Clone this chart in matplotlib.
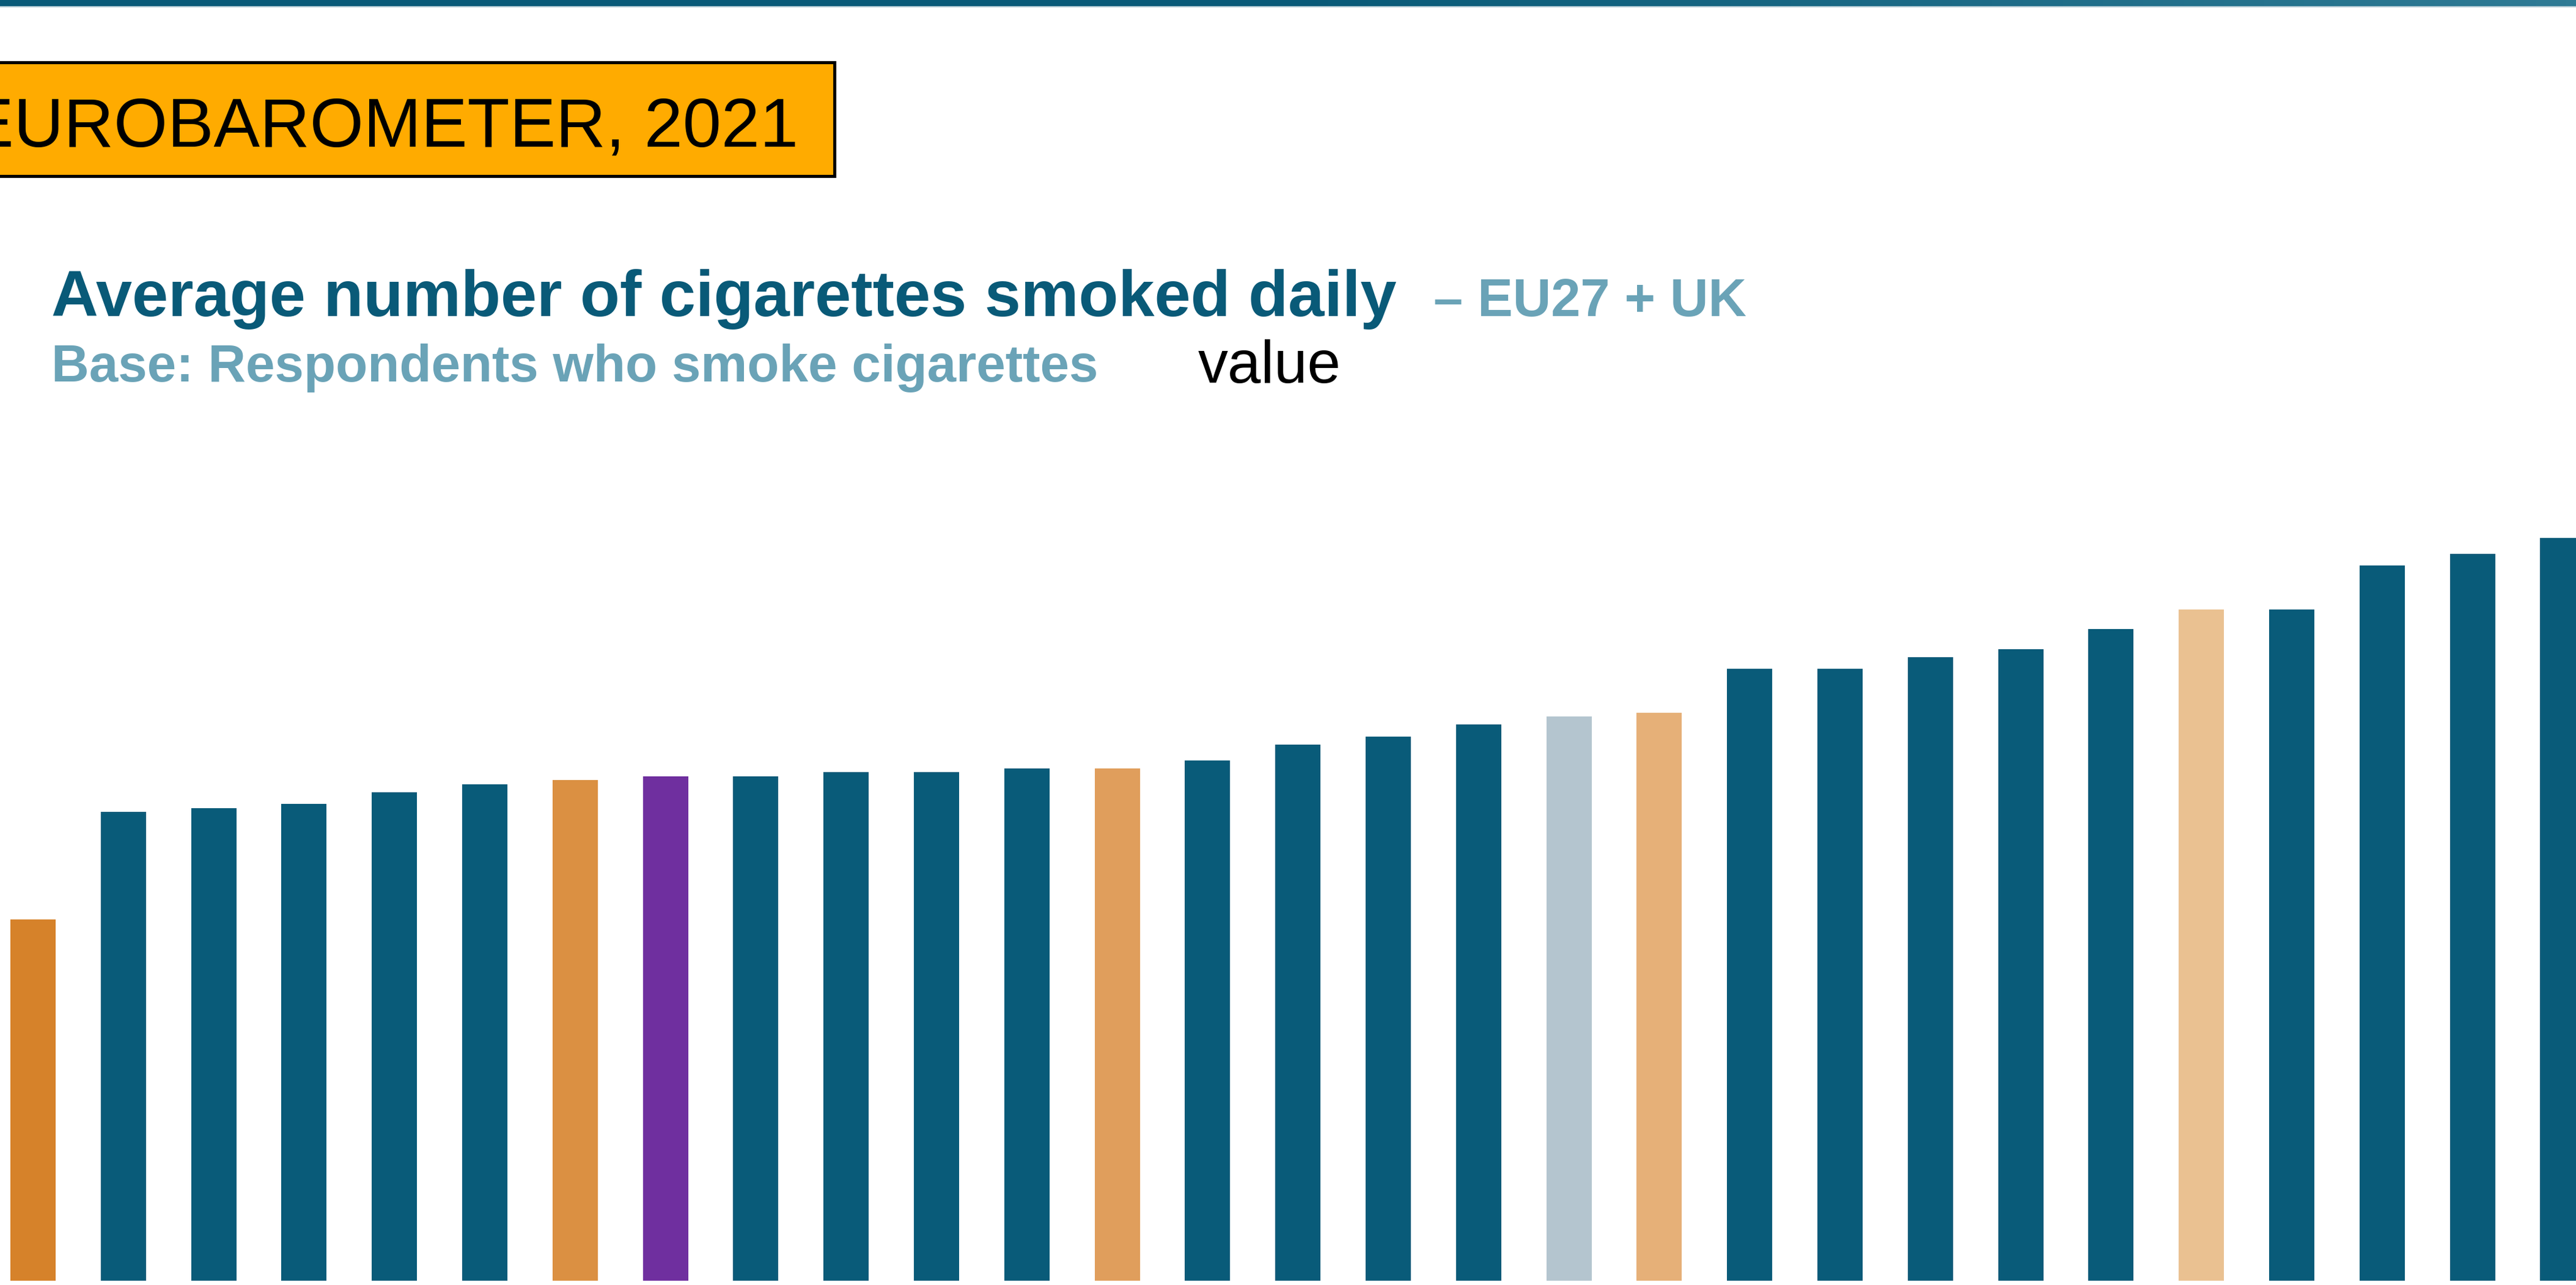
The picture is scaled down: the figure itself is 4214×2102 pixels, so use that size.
import matplotlib.pyplot as plt
import matplotlib.patches as mpatches
from matplotlib.colors import LinearSegmentedColormap
import numpy as np

plt.rcParams['font.family'] = ['Liberation Sans', 'DejaVu Sans']

# average number of cigarettes smoked daily, sorted ascending (labels are cut off in the source)
values = [9.1, 11.8, 11.9, 12.0, 12.3, 12.5, 12.6, 12.7, 12.7, 12.8,
          12.8, 12.9, 12.9, 13.1, 13.5, 13.7, 14.0, 14.2, 14.3, 15.4,
          15.4, 15.7, 15.9, 16.4, 16.9, 16.9, 18.0, 18.3, 18.7]
# highlighted bars (index -> colour), everything else is the dark blue
highlights = {0: "#D6822A", 6: "#DB9042", 7: "#6F2F9F", 12: "#E09E5C",
              17: "#B4C5CF", 18: "#E6B078", 24: "#EAC191"}
base_colour = "#095B79"

W, H = 4214, 2102
fig = plt.figure(figsize=(W / 100, H / 100), dpi=100)


def fx(px):
    return px / W


def fy(py):
    return 1 - py / H


# ---- bars ----
x = np.arange(len(values))
colours = [highlights.get(i, base_colour) for i in x]
ax = fig.add_axes([0, fy(2095), 1, 2095 / H])
ax.bar(x, values, width=0.5, color=colours, linewidth=0)
step = 147.8
ax.set_xlim(-54 / step, (W - 54) / step)
ax.set_ylim(0, 2095 / 65)
ax.axis("off")

# ---- top gradient strip ----
top = fig.add_axes([0, fy(10), 1, 10 / H])
grad_cmap = LinearSegmentedColormap.from_list(
    "strip", [(0, "#095A78"), (0.5, "#095A78"), (1, "#2F7B95")])
top.imshow(np.linspace(0, 1, 512)[None, :], aspect="auto", cmap=grad_cmap)
top.axis("off")
fig.add_artist(plt.Line2D([0, 1], [fy(10.5), fy(10.5)], color="#A9C3CE", lw=1.2))

# ---- banner (runs off the left edge, as in the source slide) ----
banner = mpatches.Rectangle((fx(-20), fy(288)), fx(1385), (288 - 102) / H,
                            facecolor="#FFAB00", edgecolor="black", lw=3.6,
                            transform=fig.transFigure)
fig.add_artist(banner)
fig.text(fx(1306), fy(240), "EUROBAROMETER, 2021", ha="right", va="baseline",
         fontsize=81.5, color="black")

# ---- titles ----
fig.text(fx(84), fy(517), "Average number of cigarettes smoked daily",
         ha="left", va="baseline", fontsize=76.6, fontweight="bold", color="#095A78")
fig.text(fx(2345), fy(517), "\u2013 EU27 + UK", ha="left", va="baseline",
         fontsize=62.3, fontweight="bold", color="#6AA3B7")
fig.text(fx(84), fy(624), "Base: Respondents who smoke cigarettes",
         ha="left", va="baseline", fontsize=61.5, fontweight="bold", color="#6AA3B7")
fig.text(fx(1960), fy(626), "value", ha="left", va="baseline",
         fontsize=70.5, color="black")

fig.savefig("out.png", dpi=100)
